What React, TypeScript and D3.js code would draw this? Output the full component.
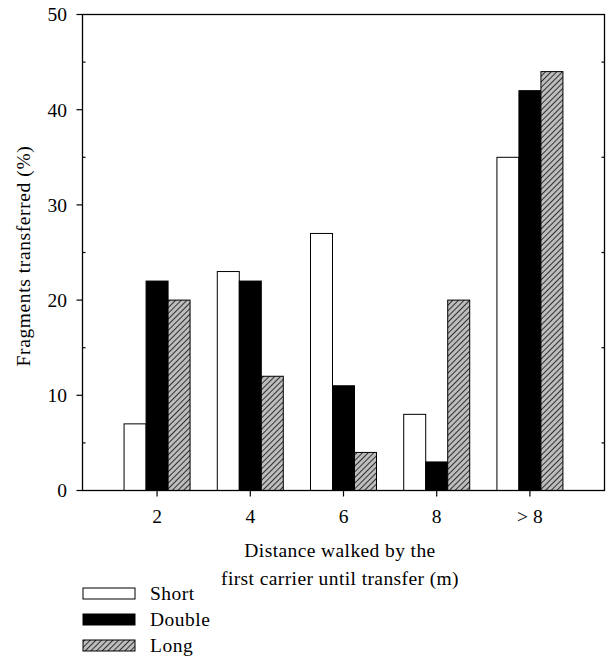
import React from "react";
import * as d3 from "d3";

const categories = ["2", "4", "6", "8", "> 8"];
const seriesNames = ["Short", "Double", "Long"];
const shortValues = [7, 23, 27, 8, 35];
const doubleValues = [22, 22, 11, 3, 42];
const longValues = [20, 12, 4, 20, 44];
const yMajorTicks = [0, 10, 20, 30, 40, 50];
const yMinorTicks = [5, 15, 25, 35, 45];

const W = 608;
const H = 659;
const FONT = "'Liberation Serif', 'Times New Roman', serif";
const FS = 19.5;

const left = 82.5;
const right = 604.5;
const top = 14.5;
const bottom = 490.5;

export default function App() {
  const x = d3.scaleLinear().domain([0.2, categories.length + 0.8]).range([left, right]);
  const y = d3.scaleLinear().domain([0, 50]).range([bottom, top]);
  const unit = x(1) - x(0);
  const barW = 0.236 * unit;

  const series = [shortValues, doubleValues, longValues];
  const fills = ["#ffffff", "#000000", "url(#hatch)"];

  return (
    <svg width={W} height={H} style={{ display: "block", position: "absolute", left: 0, top: 0 }}>
      <defs>
        <pattern id="hatch" patternUnits="userSpaceOnUse" width="4" height="4" patternTransform="rotate(45)">
          <rect width="4" height="4" fill="#bdbdbd" />
          <line x1="0" y1="0" x2="0" y2="4" stroke="#000" strokeWidth="1.5" />
        </pattern>
      </defs>
      <rect width={W} height={H} fill="#fff" />

      {/* bars */}
      {categories.map((c, i) => {
        const cx = x(i + 1);
        return series.map((vals, s) => {
          const x0 = cx - 1.5 * barW + s * barW;
          return (
            <rect
              key={c + s}
              x={x0}
              y={y(vals[i])}
              width={barW}
              height={y(0) - y(vals[i])}
              fill={fills[s]}
              stroke="#000"
              strokeWidth={1}
            />
          );
        });
      })}

      {/* frame */}
      <rect x={left} y={top} width={right - left} height={bottom - top} fill="none" stroke="#000" strokeWidth={1.3} />

      {/* left axis ticks */}
      {yMajorTicks.map((t) => (
        <g key={"ym" + t}>
          <line x1={left - 6} x2={left} y1={y(t)} y2={y(t)} stroke="#000" strokeWidth={1.2} />
          <text x={67} y={y(t)} dy="0.35em" textAnchor="end" fontFamily={FONT} fontSize={FS}>
            {t}
          </text>
        </g>
      ))}
      {yMinorTicks.map((t) => (
        <g key={"yn" + t}>
          <line x1={left} x2={left + 3} y1={y(t)} y2={y(t)} stroke="#000" strokeWidth={1.2} />
          <line x1={right - 3} x2={right} y1={y(t)} y2={y(t)} stroke="#000" strokeWidth={1.2} />
        </g>
      ))}

      {/* bottom axis ticks */}
      {categories.map((c, i) => (
        <g key={"xt" + c}>
          <line x1={x(i + 1)} x2={x(i + 1)} y1={bottom} y2={bottom + 6} stroke="#000" strokeWidth={1.2} />
          <text x={x(i + 1)} y={523} textAnchor="middle" fontFamily={FONT} fontSize={FS}>
            {c}
          </text>
        </g>
      ))}

      {/* axis titles */}
      <text
        transform={`translate(${30},${256}) rotate(-90)`}
        textAnchor="middle"
        fontFamily={FONT}
        fontSize={FS}
        letterSpacing={0.6}
      >
        Fragments transferred (%)
      </text>
      <text x={340} y={557} textAnchor="middle" fontFamily={FONT} fontSize={FS} letterSpacing={0.4}>
        Distance walked by the
      </text>
      <text x={340} y={585} textAnchor="middle" fontFamily={FONT} fontSize={FS} letterSpacing={0.4}>
        first carrier until transfer (m)
      </text>

      {/* legend */}
      {seriesNames.map((n, s) => {
        const ly = 588 + s * 26;
        return (
          <g key={"lg" + n}>
            <rect x={83} y={ly} width={52} height={11} fill={fills[s]} stroke="#000" strokeWidth={1} />
            <text x={150} y={ly + 11.5} fontFamily={FONT} fontSize={FS} letterSpacing={0.5}>
              {n}
            </text>
          </g>
        );
      })}
    </svg>
  );
}
